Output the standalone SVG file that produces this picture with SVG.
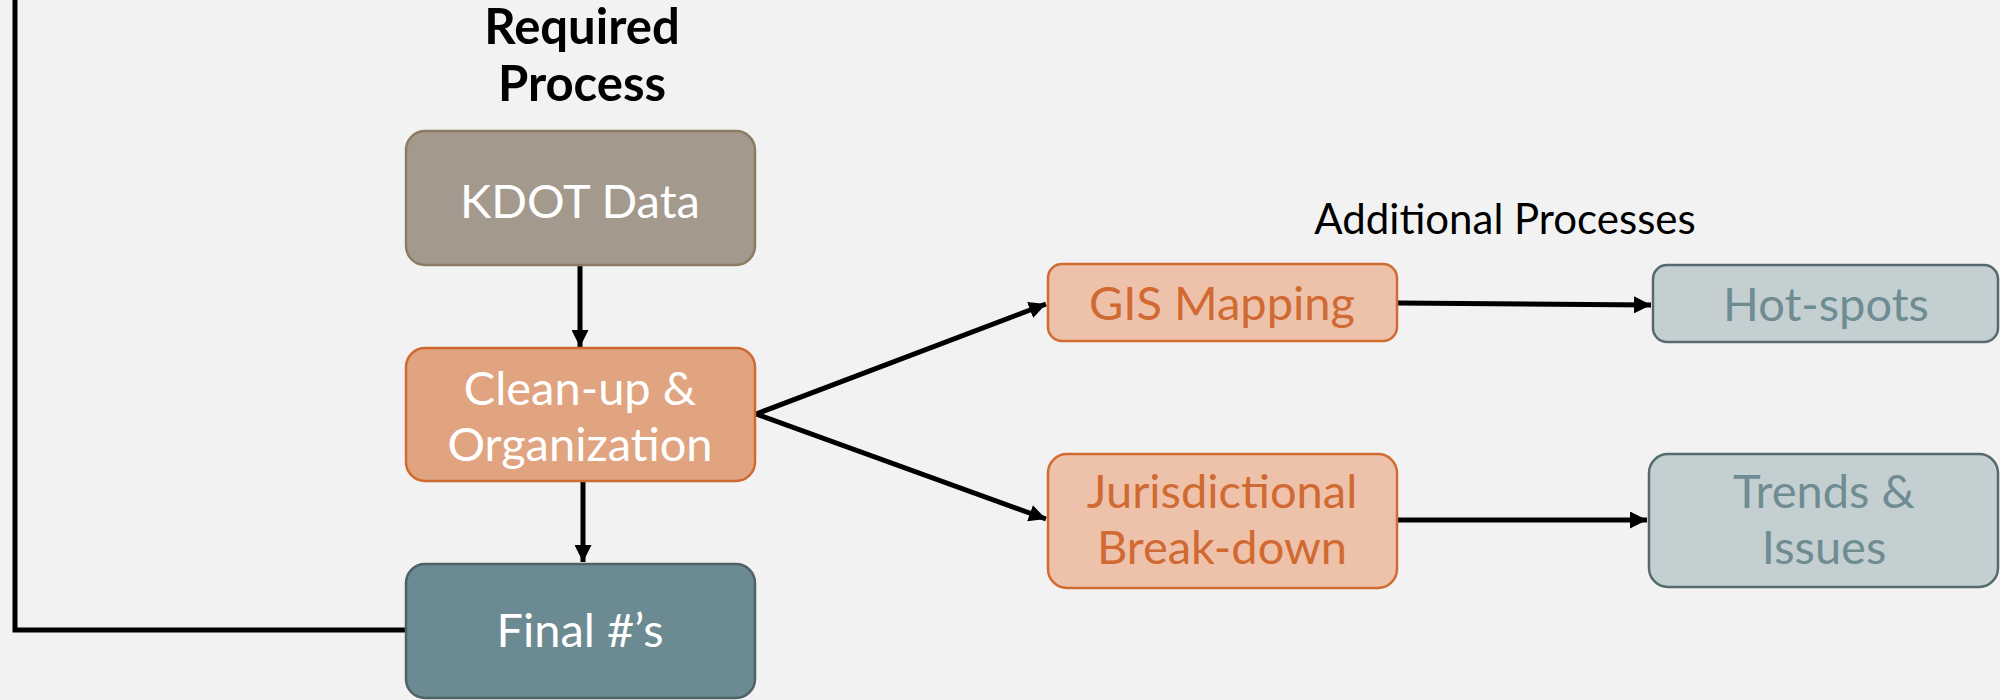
<svg xmlns="http://www.w3.org/2000/svg" width="2000" height="700" viewBox="0 0 2000 700">
<defs>
<marker id="ah" viewBox="0 0 10 10" refX="10" refY="5" markerWidth="3.4" markerHeight="3.4" orient="auto" markerUnits="strokeWidth">
<path d="M0,0 L10,5 L0,10 Z" fill="#000"/>
</marker>
</defs>
<style>
text{font-family:Lato,"Open Sans","Liberation Sans",sans-serif;text-anchor:middle}
.t{font-size:47px}
.w{fill:#FFFFFF}
.o{fill:#D06A32}
.g{fill:#6F8C92}
.kd{fill:#A39A8D;stroke:#8C7C64;stroke-width:2.5}
.cu{fill:#E0A480;stroke:#CF6A33;stroke-width:2.5}
.fn{fill:#6B8A91;stroke:#4E6166;stroke-width:2.5}
.lo{fill:#EEC2AA;stroke:#D16B32;stroke-width:2.5}
.lg{fill:#C4CFD2;stroke:#546A70;stroke-width:2.5}
.c{stroke:#000;stroke-width:5;fill:none}
</style>
<rect width="2000" height="700" fill="#F2F2F2"/>
<g id="headings">
<text x="582" y="44" font-size="49" font-weight="bold" fill="#000">Required</text>
<text x="582" y="101" font-size="49" font-weight="bold" fill="#000">Process</text>
<text x="1505" y="234" font-size="42" fill="#000">Additional Processes</text>
</g>
<g id="connectors">
<polyline class="c" points="406,630 15,630 15,0"/>
<line class="c" x1="580" y1="266" x2="580" y2="347" marker-end="url(#ah)"/>
<line class="c" x1="583" y1="482" x2="583" y2="562" marker-end="url(#ah)"/>
<line class="c" x1="756" y1="414" x2="1046" y2="304" marker-end="url(#ah)"/>
<line class="c" x1="756" y1="414" x2="1046" y2="519" marker-end="url(#ah)"/>
<line class="c" x1="1398" y1="303" x2="1651" y2="305" marker-end="url(#ah)"/>
<line class="c" x1="1398" y1="520" x2="1647" y2="520" marker-end="url(#ah)"/>
</g>
<g id="kdot">
<rect class="kd" x="406" y="131" width="349" height="134" rx="19"/>
<text class="t w" x="580" y="218">KDOT Data</text>
</g>
<g id="cleanup">
<rect class="cu" x="406" y="348" width="349" height="133" rx="19"/>
<text class="t w" x="580" y="405">Clean-up &amp;</text>
<text class="t w" x="580" y="461">Organization</text>
</g>
<g id="final">
<rect class="fn" x="406" y="564" width="349" height="134" rx="19"/>
<text class="t w" x="580" y="647">Final #’s</text>
</g>
<g id="gis">
<rect class="lo" x="1048" y="264" width="349" height="77" rx="14"/>
<text class="t o" x="1222" y="320">GIS Mapping</text>
</g>
<g id="juris">
<rect class="lo" x="1048" y="454" width="349" height="134" rx="19"/>
<text class="t o" x="1222" y="508">Jurisdictional</text>
<text class="t o" x="1222" y="564">Break-down</text>
</g>
<g id="hotspots">
<rect class="lg" x="1653" y="265" width="345" height="77" rx="14"/>
<text class="t g" x="1826" y="321">Hot-spots</text>
</g>
<g id="trends">
<rect class="lg" x="1649" y="454" width="349" height="133" rx="19"/>
<text class="t g" x="1824" y="508">Trends &amp;</text>
<text class="t g" x="1824" y="564">Issues</text>
</g>
</svg>
